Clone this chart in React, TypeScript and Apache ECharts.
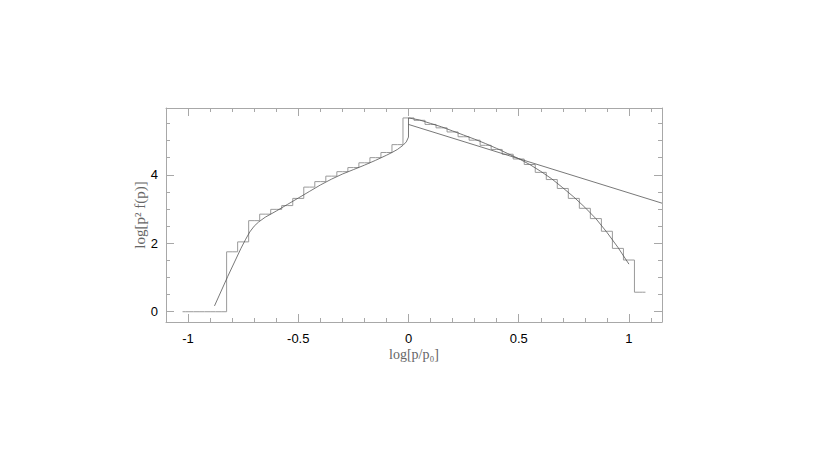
import React, { useEffect, useRef } from "react";
import * as echarts from "echarts";

// Histogram: bin centres (log p/p0) and heights (log p^2 f(p))
const binCenters = [
  -1.0, -0.95, -0.9, -0.85, -0.8, -0.75, -0.7, -0.65, -0.6, -0.55, -0.5, -0.45, -0.4, -0.35,
  -0.3, -0.25, -0.2, -0.15, -0.1, -0.05, 0, 0.05, 0.1, 0.15, 0.2, 0.25, 0.3, 0.35, 0.4, 0.45,
  0.5, 0.55, 0.6, 0.65, 0.7, 0.75, 0.8, 0.85, 0.9, 0.95, 1.0, 1.05,
];
const binValues = [
  0, 0, 0, 0, 1.75, 2.04, 2.66, 2.85, 2.99, 3.1, 3.31, 3.64, 3.8, 3.96,
  4.09, 4.21, 4.35, 4.5, 4.65, 4.88, 5.66, 5.59, 5.47, 5.37, 5.25, 5.11, 5.01, 4.86, 4.74, 4.6,
  4.46, 4.3, 4.07, 3.86, 3.6, 3.31, 3.02, 2.72, 2.35, 1.85, 1.51, 0.57,
];
const binHalfWidth = 0.025;

// Model curve (discontinuous at 0)
const curveX = [
  -0.88, -0.82, -0.76, -0.74, -0.72, -0.7, -0.68, -0.65, -0.6, -0.55, -0.5, -0.45, -0.4, -0.35,
  -0.3, -0.25, -0.2, -0.15, -0.1, -0.075, -0.05, -0.025, -0.01, 0, 0, 0.05, 0.1, 0.15, 0.2, 0.25,
  0.3, 0.35, 0.4, 0.45, 0.5, 0.55, 0.6, 0.65, 0.7, 0.75, 0.8, 0.85, 0.9, 0.95, 1.0,
];
const curveY = [
  0.17, 1.03, 1.85, 2.1, 2.33, 2.5, 2.62, 2.76, 2.94, 3.13, 3.32, 3.51, 3.7, 3.87,
  4.02, 4.15, 4.28, 4.42, 4.57, 4.65, 4.74, 4.86, 4.96, 5.1, 5.66, 5.6, 5.5, 5.4, 5.28, 5.16,
  5.04, 4.91, 4.77, 4.62, 4.47, 4.3, 4.1, 3.88, 3.62, 3.35, 3.05, 2.72, 2.32, 1.88, 1.39,
];

// Power-law line
const lineX = [0, 1.15];
const lineY = [5.47, 3.17];

// Axes
const xMin = -1.1;
const xMax = 1.15;
const yMin = -0.3;
const yMax = 5.95;
const xMajorTicks = [-1, -0.5, 0, 0.5, 1];
const xMinorTicks = [
  -1, -0.9, -0.8, -0.7, -0.6, -0.5, -0.4, -0.3, -0.2, -0.1, 0, 0.1, 0.2, 0.3, 0.4, 0.5, 0.6,
  0.7, 0.8, 0.9, 1, 1.1,
];
const yMajorTicks = [0, 2, 4];
const yMinorTicks = [0, 0.5, 1, 1.5, 2, 2.5, 3, 3.5, 4, 4.5, 5, 5.5];

const frameColor = "#a8a8a8";

export default function App() {
  const ref = useRef<HTMLDivElement>(null);

  useEffect(() => {
    if (!ref.current) return;
    const chart = echarts.init(ref.current, null, { renderer: "svg" });

    const histData: number[][] = [];
    histData.push([binCenters[0] - binHalfWidth, binValues[0]]);
    binCenters.forEach((x, i) => histData.push([x, binValues[i]]));
    histData.push([binCenters[binCenters.length - 1] + binHalfWidth, binValues[binValues.length - 1]]);

    const curveData = curveX.map((x, i) => [x, curveY[i]]);
    const lineData = lineX.map((x, i) => [x, lineY[i]]);

    const mkX = (pos: "bottom" | "top", major: boolean, main: boolean) => ({
      type: "value" as const,
      position: pos,
      min: xMin,
      max: xMax,
      axisLine: { show: major, onZero: false, lineStyle: { color: frameColor, width: 1 } },
      axisTick: {
        show: true,
        inside: true,
        length: major ? 8 : 4,
        customValues: major ? xMajorTicks : xMinorTicks,
        lineStyle: { color: frameColor, width: 1 },
      },
      axisLabel: main
        ? {
            show: true,
            customValues: xMajorTicks,
            margin: 10,
            color: "#000",
            fontFamily: "Liberation Sans, Arial, sans-serif",
            fontSize: 13,
          }
        : { show: false },
      splitLine: { show: false },
      name: main ? "log[p/p₀]" : "",
      nameLocation: "middle" as const,
      nameGap: 25,
      nameMoveOverlap: false,
      nameTextStyle: {
        color: "#666",
        fontFamily: "Liberation Serif, Times New Roman, serif",
        fontSize: 14,
      },
    });

    const mkY = (pos: "left" | "right", major: boolean, main: boolean) => ({
      type: "value" as const,
      position: pos,
      min: yMin,
      max: yMax,
      axisLine: { show: major, onZero: false, lineStyle: { color: frameColor, width: 1 } },
      axisTick: {
        show: true,
        inside: true,
        length: major ? 8 : 4,
        customValues: major ? yMajorTicks : yMinorTicks,
        lineStyle: { color: frameColor, width: 1 },
      },
      axisLabel: main
        ? {
            show: true,
            customValues: yMajorTicks,
            margin: 8,
            color: "#000",
            fontFamily: "Liberation Sans, Arial, sans-serif",
            fontSize: 13,
          }
        : { show: false },
      splitLine: { show: false },
      name: main ? "log[p² f(p)]" : "",
      nameLocation: "middle" as const,
      nameGap: 19,
      nameRotate: 90,
      nameMoveOverlap: false,
      nameTextStyle: {
        color: "#666",
        fontFamily: "Liberation Serif, Times New Roman, serif",
        fontSize: 15,
      },
    });

    chart.setOption({
      animation: false,
      backgroundColor: "#fff",
      grid: { left: 166, top: 108, right: 168, bottom: 145, containLabel: false },
      xAxis: [
        mkX("bottom", true, true),
        mkX("bottom", false, false),
        mkX("top", true, false),
        mkX("top", false, false),
      ],
      yAxis: [
        mkY("left", true, true),
        mkY("left", false, false),
        mkY("right", true, false),
        mkY("right", false, false),
      ],
      series: [
        {
          type: "line",
          data: histData,
          step: "middle",
          symbol: "none",
          lineStyle: { color: "#9a9a9a", width: 1 },
          silent: true,
        },
        {
          type: "line",
          data: curveData,
          symbol: "none",
          lineStyle: { color: "#555", width: 0.8 },
          silent: true,
        },
        {
          type: "line",
          data: lineData,
          symbol: "none",
          lineStyle: { color: "#555", width: 0.8 },
          silent: true,
        },
      ],
    });

    return () => chart.dispose();
  }, []);

  return (
    <div
      ref={ref}
      style={{ position: "absolute", left: 0, top: 0, width: 830, height: 467, background: "#fff" }}
    />
  );
}
